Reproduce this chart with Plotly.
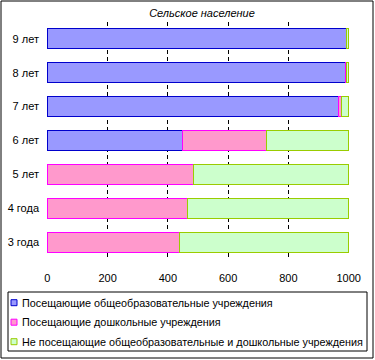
import plotly.graph_objects as go

categories = ["3 года", "4 года", "5 лет", "6 лет", "7 лет", "8 лет", "9 лет"]
school = [None, None, None, 450, 966, 990, 993]
preschool = [437, 466, 486, 278, 10, 3, None]
none_att = [563, 534, 514, 272, 24, 7, 7]
names = [
    "Посещающие общеобразовательные учреждения",
    "Посещающие дошкольные учреждения",
    "Не посещающие общеобразовательные и дошкольные учреждения",
]
title_text = "Сельское население"
x_ticks = [0, 200, 400, 600, 800, 1000]

fills = ["#9999FF", "#FF99CC", "#CCFFCC"]
lines = ["#0000CC", "#FF00FF", "#99CC00"]

fig = go.Figure()
for vals, nm, fc, lc in zip([school, preschool, none_att], names, fills, lines):
    fig.add_trace(go.Bar(
        y=categories, x=vals, name=nm, orientation="h",
        marker=dict(color=fc, line=dict(color=lc, width=1)),
        showlegend=False,
    ))

L, R, T, B = 47, 26, 22, 101
W, H = 375, 360
pw = W - L - R
ph = H - T - B

def px_x(p):
    return (p - L) / pw

def px_y(p):
    return (H - B - p) / ph

shapes = [dict(type="rect", xref="paper", yref="paper",
               x0=px_x(1), x1=px_x(373), y0=px_y(358), y1=px_y(1),
               line=dict(color="black", width=1), layer="below"),
          dict(type="rect", xref="paper", yref="paper",
               x0=px_x(8), x1=px_x(367), y0=px_y(351), y1=px_y(292),
               line=dict(color="black", width=1), fillcolor="white", layer="below")]
annotations = []
item_y = [302.7, 322.2, 341.7]
for nm, fc, lc, yy in zip(names, fills, lines, item_y):
    shapes.append(dict(type="rect", xref="paper", yref="paper",
                       x0=px_x(11), x1=px_x(17), y0=px_y(yy + 3), y1=px_y(yy - 3),
                       line=dict(color=lc, width=1), fillcolor=fc))
    annotations.append(dict(text=nm, xref="paper", yref="paper", x=px_x(19.5),
                            y=px_y(yy), xanchor="left", yanchor="middle",
                            showarrow=False, font=dict(size=10.8, color="black")))

fig.update_layout(
    width=W, height=H,
    margin=dict(l=L, r=R, t=T, b=B, autoexpand=False),
    barmode="stack", bargap=0.41,
    paper_bgcolor="white", plot_bgcolor="white",
    font=dict(family="Liberation Sans, Arial, sans-serif", size=11, color="black"),
    title=dict(text="<i>" + title_text + "</i>", x=px_x(202), xanchor="center",
               xref="paper", y=1 - 13 / H, yanchor="middle",
               font=dict(size=11, color="black")),
    xaxis=dict(range=[-1, 1001], tickvals=x_ticks, showgrid=True, gridcolor="black",
               griddash="4px,3px", gridwidth=1, zeroline=False, showline=False,
               ticks="", ticklabelstandoff=11, fixedrange=True, automargin=False),
    yaxis=dict(showgrid=False, zeroline=False, showline=False, ticks="",
               ticklabelstandoff=7, fixedrange=True, automargin=False),
    showlegend=False,
    shapes=shapes,
    annotations=annotations,
)

fig.write_html("out.html", config={"displayModeBar": False},
               post_script="document.body.style.margin='0';")
